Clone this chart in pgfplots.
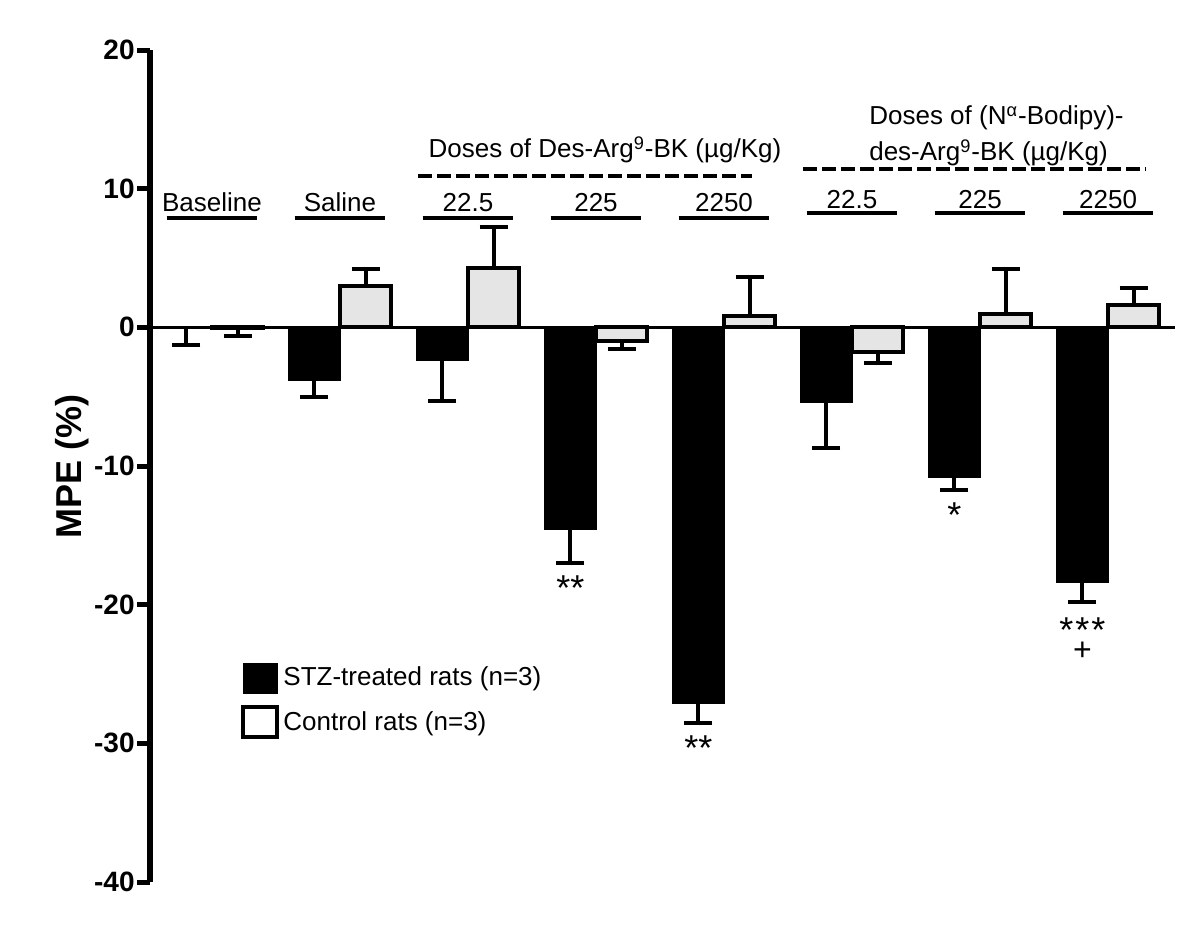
\documentclass[border=0pt]{standalone}
\usepackage{fontspec}
\setmainfont{Liberation Sans}
\usepackage{pgfplots}
\pgfplotsset{compat=1.18}

\begin{document}
\begin{tikzpicture}
\path[use as bounding box] (0,0) rectangle (600pt,467pt);
\begin{axis}[
  at={(75pt,26pt)}, anchor=south west,
  scale only axis, width=512.5pt, height=416pt,
  xmin=-0.484, xmax=7.523, ymin=-40, ymax=20,
  axis x line*=middle, axis y line*=left,
  clip=false,
  xtick=\empty, ytick={-40,-30,...,20},
  tick align=outside, major tick length=6.5pt,
  ytick style={line width=2.5pt, black},
  y axis line style={line width=2.75pt},
  x axis line style={line width=1.5pt},
  /pgf/number format/assume math mode=true,
  yticklabel style={font=\fontsize{14}{16}\selectfont\bfseries, inner sep=1pt},
  ylabel={MPE (\%)},
  ylabel style={font=\fontsize{18}{20}\selectfont\bfseries, at={(rel axis cs:-0.076,0.5)}, anchor=center},
  legend cell align=left,
  legend image code/.code={\draw[#1] (0pt,-7.5pt) rectangle (17pt,7.5pt);},
  legend style={draw=none, fill=none, at={(axis cs:0.227,-24.15)}, anchor=north west,
    inner sep=0pt, row sep=6pt, font=\fontsize{13}{15}\selectfont},
  every axis plot/.append style={ybar, bar width=0.4, bar shift=0pt},
  error bars/error bar style={line width=2pt},
  error bars/error mark options={rotate=90, line width=2pt, mark size=7pt, black},
]
% STZ-treated rats, error bars downwards
\addplot[fill=black, draw=black, forget plot,
  error bars/.cd, y dir=minus, y explicit]
  coordinates {(-0.2,-0.05) +- (0,1.2) (0.8,-3.8) +- (0,1.2) (1.8,-2.4) +- (0,2.9) (2.8,-14.6) +- (0,2.4)
    (3.8,-27.1) +- (0,1.4) (4.8,-5.4) +- (0,3.3) (5.8,-10.8) +- (0,0.9) (6.8,-18.4) +- (0,1.4)};
% control rats, positive means
\addplot[fill=black!10, draw=black, line width=2pt, forget plot,
  error bars/.cd, y dir=plus, y explicit]
  coordinates {(1.2,3.0) +- (0,1.2) (2.2,4.3) +- (0,2.9) (4.2,0.8) +- (0,2.8)
    (6.2,0.95) +- (0,3.25) (7.2,1.6) +- (0,1.25)};
% control rats, negative means
\addplot[fill=black!10, draw=black, line width=2pt, forget plot,
  error bars/.cd, y dir=minus, y explicit]
  coordinates {(0.2,-0.05) +- (0,0.6) (3.2,-0.95) +- (0,0.6) (5.2,-1.75) +- (0,0.85)};

\addlegendimage{fill=black, draw=black}
\addlegendentry{STZ-treated rats (n=3)}
\addlegendimage{fill=white, draw=black, line width=2pt}
\addlegendentry{Control rats (n=3)}

% group labels
\begin{scope}[font=\fontsize{13}{15}\selectfont]
\node at (axis cs:0,9.0) {Baseline};
\node at (axis cs:1,9.0) {Saline};
\node at (axis cs:2,9.0) {22.5};
\node at (axis cs:3,9.0) {225};
\node at (axis cs:4,9.0) {2250};
\node at (axis cs:5,9.2) {22.5};
\node at (axis cs:6,9.2) {225};
\node at (axis cs:7,9.2) {2250};
\node at (axis cs:3.07,12.8) {Doses of Des-Arg\textsuperscript{9}-BK (µg/Kg)};
\node[align=left, anchor=west, font=\fontsize{13}{18}\selectfont] at (axis cs:5.08,13.78)
  {Doses of (N\textsuperscript{α}-Bodipy)-\\des-Arg\textsuperscript{9}-BK (µg/Kg)};
\end{scope}
\begin{scope}[line width=2pt]
\draw (axis cs:-0.355,7.91) -- (axis cs:0.355,7.91);
\draw (axis cs:0.645,7.91) -- (axis cs:1.355,7.91);
\draw (axis cs:1.645,7.91) -- (axis cs:2.355,7.91);
\draw (axis cs:2.645,7.91) -- (axis cs:3.355,7.91);
\draw (axis cs:3.645,7.91) -- (axis cs:4.355,7.91);
\draw (axis cs:4.645,8.27) -- (axis cs:5.355,8.27);
\draw (axis cs:5.645,8.27) -- (axis cs:6.355,8.27);
\draw (axis cs:6.645,8.27) -- (axis cs:7.355,8.27);
\draw[dash pattern=on 7pt off 2.5pt] (axis cs:1.61,10.94) -- (axis cs:4.22,10.94);
\draw[dash pattern=on 7pt off 2.5pt] (axis cs:4.62,11.44) -- (axis cs:7.30,11.44);
\end{scope}
% significance marks
\begin{scope}[font=\fontsize{18}{20}\selectfont, anchor=base, inner sep=0pt]
\node at (axis cs:2.8,-19.7) {**};
\node at (axis cs:3.8,-31.24) {**};
\node at (axis cs:5.8,-14.44) {*};
\node at (axis cs:6.8,-22.7)
  {\makebox[0pt]{*\kern1pt*\kern1pt*}\makebox[0pt]{\raisebox{-9pt}{\fontsize{16}{18}\selectfont +}}};
\end{scope}
\end{axis}
\end{tikzpicture}
\end{document}
